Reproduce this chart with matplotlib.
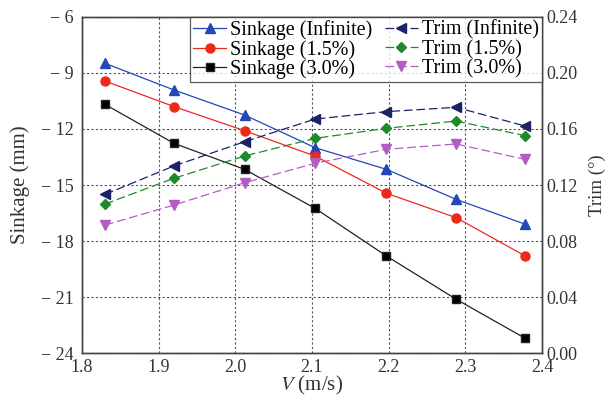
import matplotlib
matplotlib.use("Agg")
import matplotlib.pyplot as plt
import matplotlib.ticker as mtick

plt.rcParams['font.family'] = ['Liberation Serif', 'DejaVu Serif']
plt.rcParams['mathtext.fontset'] = 'stix'

# Data
speed = [1.83, 1.92, 2.012, 2.104, 2.197, 2.288, 2.378]

sinkage_inf = [-8.48, -9.91, -11.25, -13.0, -14.16, -15.77, -17.1]
sinkage_15 = [-9.43, -10.8, -12.09, -13.45, -15.44, -16.75, -18.8]
sinkage_30 = [-10.68, -12.77, -14.16, -16.25, -18.8, -21.12, -23.21]

trim_inf = [0.1133, 0.1336, 0.1509, 0.1671, 0.1724, 0.1755, 0.1621]
trim_15 = [0.1064, 0.1248, 0.1407, 0.1533, 0.1605, 0.1657, 0.1552]
trim_30 = [0.0914, 0.1057, 0.1216, 0.1355, 0.1455, 0.1493, 0.1383]

x_ticks = [1.8, 1.9, 2.0, 2.1, 2.2, 2.3, 2.4]
sink_ticks = [-6, -9, -12, -15, -18, -21, -24]
trim_ticks = [0.00, 0.04, 0.08, 0.12, 0.16, 0.20, 0.24]

fig = plt.figure(figsize=(6.09, 3.97), dpi=100)
ax = fig.add_axes([0.1346, 0.1108, 0.7554, 0.8464])
ax2 = ax.twinx()

dash = (0, (7, 3))
h1, = ax.plot(speed, sinkage_inf, '-', color='#2346b8', lw=0.9, marker='^', ms=6.5,
              label='Sinkage (Infinite)')
h2, = ax.plot(speed, sinkage_15, '-', color='#ec2a1c', lw=0.9, marker='o', ms=6.5,
              label='Sinkage (1.5%)')
h3, = ax.plot(speed, sinkage_30, '-', color='#222222', lw=0.9, marker='s', ms=6,
              mfc='black', label='Sinkage (3.0%)')
h4, = ax2.plot(speed, trim_inf, color='#1c2266', ls=dash, lw=0.9, marker='<', ms=6.5,
               label='Trim (Infinite)')
h5, = ax2.plot(speed, trim_15, color='#1f8a2a', ls=dash, lw=0.9, marker='D', ms=5.5,
               label='Trim (1.5%)')
h6, = ax2.plot(speed, trim_30, color='#b35cc4', ls=dash, lw=0.9, marker='v', ms=6.5,
               label='Trim (3.0%)')

ax.set_xlim(1.8, 2.4)
ax.set_ylim(-24, -6)
ax2.set_ylim(0, 0.24)

ax.set_xticks(x_ticks)
ax.xaxis.set_major_formatter(mtick.FormatStrFormatter('%.1f'))
ax.set_yticks(sink_ticks)
ax.set_yticklabels(['\u2212 %d' % abs(v) for v in sink_ticks])
ax2.set_yticks(trim_ticks)
ax2.yaxis.set_major_formatter(mtick.FormatStrFormatter('%.2f'))

for a in (ax, ax2):
    a.tick_params(length=0, labelsize=13, colors='#333333')
    for s in a.spines.values():
        s.set_color('#444444')
        s.set_linewidth(1.0)
ax.tick_params(axis='y', pad=6)
ax.tick_params(axis='x', pad=4)
ax2.tick_params(axis='y', pad=3)

ax.grid(True, ls=(0, (2, 2)), lw=0.8, color='#555555')
ax.set_axisbelow(True)

ax.set_xlabel('$V$ (m/s)', fontsize=15, color='#333333', labelpad=-1)
ax.set_ylabel('Sinkage (mm)', fontsize=15, color='#333333', labelpad=8)
ax2.set_ylabel('Trim (°)', fontsize=13.5, color='#333333', labelpad=8)

leg = ax2.legend(handles=[h1, h2, h3, h4, h5, h6], ncol=2, loc='upper right',
                 fontsize=14.5, frameon=True, fancybox=False, borderaxespad=0,
                 handlelength=1.65, handletextpad=0.2, columnspacing=0.6,
                 labelspacing=0.0, borderpad=0.15)
leg.get_frame().set_edgecolor('#333333')
leg.get_frame().set_linewidth(0.9)

fig.savefig('out.png', dpi=100)
